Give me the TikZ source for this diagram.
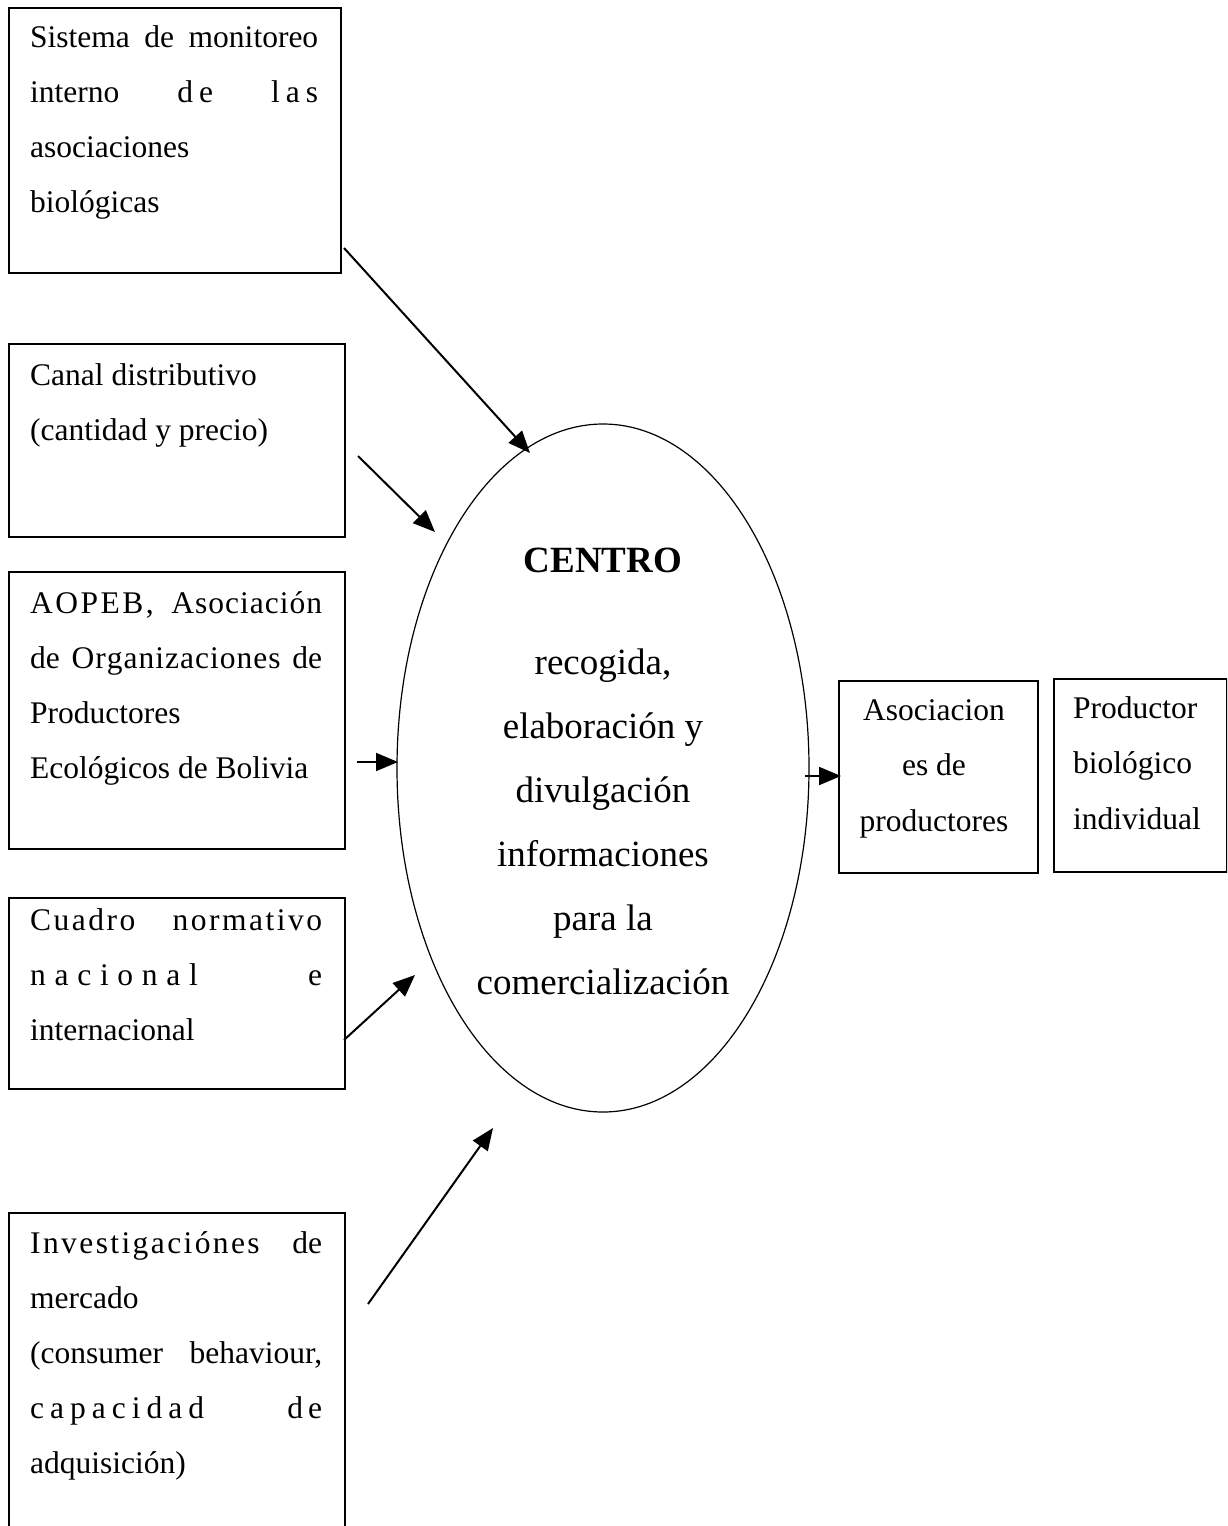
\documentclass[tikz,border=0pt]{standalone}
\usepackage{fontspec}
\setmainfont{Liberation Serif}
\usetikzlibrary{arrows.meta,shapes.geometric}
\makeatletter
\def\lsp#1#2{\def\lsp@k{\kern#1}\lsp@loop#2\relax}
\def\lsp@loop#1#2{#1\ifx\relax#2\else\lsp@k\expandafter\lsp@loop\expandafter#2\fi}
\makeatother
\newcommand{\firstln}{\rule{0pt}{25pt}}
\begin{document}
\begin{tikzpicture}[x=1pt,y=-1pt,
  box/.style={draw,line width=1.5pt,inner sep=0pt,anchor=north west},
  txt/.style={anchor=north west,inner sep=0pt,font=\fontsize{31.5}{55}\selectfont,align=flush left},
  rtxt/.style={inner sep=0pt,font=\fontsize{31.5}{55.5}\selectfont},
  ctxt/.style={inner sep=0pt,font=\fontsize{37}{64}\selectfont,align=center},
  arr/.style={line width=2pt,-{Triangle[length=22pt,width=18pt]}}]
\path[use as bounding box,clip] (0,0) rectangle (1227,1526);
\fill[white] (0,0) rectangle (1227,1526);

% left boxes
\node[box,minimum width=332pt,minimum height=265pt] (b1) at (8,7) {};
\node[txt,text width=288pt] (t1) at (30,22) {\firstln Sistema\hfill de\hfill monitoreo\\
 interno\hfill\lsp{6pt}{de}\hfill\lsp{6pt}{las}\\
 asociaciones\\
 biológicas};

\node[box,minimum width=336pt,minimum height=193pt] (b2) at (8,343) {};
\node[txt,text width=292pt] (t2) at (30,360) {\firstln Canal distributivo\\
 (cantidad y precio)};

\node[box,minimum width=336pt,minimum height=277pt] (b3) at (8,571) {};
\node[txt,text width=292pt] (t3) at (30,588) {\firstln \lsp{2.5pt}{AOPEB,}\hfill\lsp{1pt}{Asociación}\\
 de\hfill\lsp{1pt}{Organizaciones}\hfill de\\
 Productores\\
 Ecológicos de Bolivia};

\node[box,minimum width=336pt,minimum height=191pt] (b4) at (8,897) {};
\node[txt,text width=292pt] (t4) at (30,905) {\firstln \lsp{2.5pt}{Cuadro}\hfill\lsp{2.5pt}{normativo}\\
 \lsp{8.7pt}{nacional}\hfill e\\
 internacional};

\node[box,minimum width=336pt,minimum height=345pt] (b5) at (8,1212) {};
\node[txt,text width=292pt] (t5) at (30,1228) {\firstln \lsp{2.4pt}{Investigaciónes}\hfill de\\
 mercado\\
 (consumer\hfill behaviour,\\
 \lsp{6pt}{capacidad}\hfill\lsp{5pt}{de}\\
 adquisición)};

% centre ellipse
\node[draw,ellipse,line width=1.2pt,minimum width=412pt,minimum height=688pt,inner sep=0pt] (centro) at (603,768) {};
\node[ctxt,anchor=north] (centrotxt) at (603,548) {\textbf{CENTRO}\\[38pt]
 recogida,\\ elaboración y\\ divulgación\\ informaciones\\ para la\\ comercialización};

% right boxes
\node[box,minimum width=199pt,minimum height=192pt] (asoc) at (838,680) {};
\node[rtxt,anchor=north,align=center] (asoctxt) at (934,695) {\firstln Asociacion\hspace{6pt}\\ es de\\ productores};

\node[box,minimum width=173pt,minimum height=193pt] (prod) at (1053,678) {};
\node[rtxt,anchor=north west,align=left] (prodtxt) at (1073,693) {\firstln Productor\\ biológico\\ individual};

% arrows
\coordinate (a1s) at (344,248);  \coordinate (a1e) at (530,453);
\coordinate (a2s) at (358,456);  \coordinate (a2e) at (435,532);
\coordinate (a3s) at (357,762);  \coordinate (a3e) at (398,762);
\coordinate (a4s) at (344,1040); \coordinate (a4e) at (415,975);
\coordinate (a5s) at (368,1304); \coordinate (a5e) at (493,1128);
\coordinate (a6s) at (805,776);  \coordinate (a6e) at (841,776);
\draw[arr] (a1s) -- (a1e);
\draw[arr] (a2s) -- (a2e);
\draw[arr] (a3s) -- (a3e);
\draw[arr] (a4s) -- (a4e);
\draw[arr] (a5s) -- (a5e);
\draw[arr] (a6s) -- (a6e);
\end{tikzpicture}
\end{document}
